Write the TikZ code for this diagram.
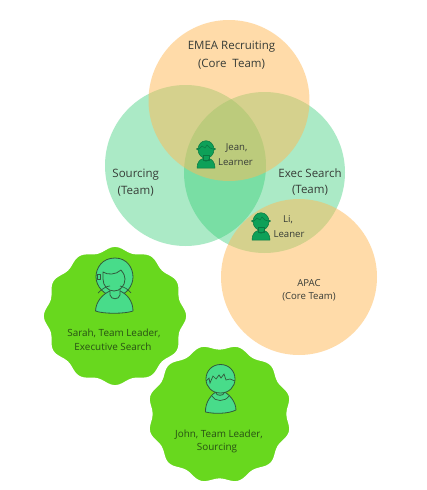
\documentclass[tikz,border=0pt]{standalone}
\usepackage{fontspec}
\setmainfont{Open Sans}
\definecolor{venngreen}{RGB}{46,204,113}
\definecolor{vennorange}{RGB}{255,185,85}
\definecolor{blob}{RGB}{104,216,30}
\definecolor{iconfill}{RGB}{72,220,138}
\definecolor{iconline}{RGB}{50,90,60}
\definecolor{smallfill}{RGB}{14,160,88}
\definecolor{smallline}{RGB}{10,120,65}
\definecolor{txt}{RGB}{55,60,55}
\definecolor{blobtxt}{RGB}{40,80,20}
\tikzset{
  greenc/.style={fill=venngreen,fill opacity=.4,draw=none},
  orangec/.style={fill=vennorange,fill opacity=.5,draw=none},
  lab/.style={font=\fontsize{11.5}{13}\selectfont,text=txt,inner sep=0pt,anchor=center},
  labs/.style={font=\fontsize{9.6}{11}\selectfont,text=txt,inner sep=0pt,anchor=center},
  labb/.style={font=\fontsize{9.9}{11}\selectfont,text=blobtxt,inner sep=0pt,anchor=center},
  blobshape/.style={fill=blob,draw=white,line width=1.5pt},
  bigicon/.style={fill=iconfill,draw=iconline,line width=.8pt,line join=round},
  smallicon/.style={fill=smallfill,draw=smallline,line width=.5pt,line join=round},
  smalldetail/.style={draw=smallline,line width=.5pt}
}
\newcommand{\smallperson}[2]{%
  \begin{scope}[shift={(#1,#2)}]
    \fill[smallicon] (-9,27) .. controls (-9,21) and (-6,18.5) .. (-3,17.5) -- (3,17.5) .. controls (6,18.5) and (9,21) .. (9,27) -- cycle;
    \fill[smallicon] (0,8.5) circle[x radius=8,y radius=8.8];
    \fill[smallicon] (-3,14) rectangle (3,19);
    \draw[smalldetail] (-3,18) .. controls (-2,21) and (2,21) .. (3,18);
    \draw[smalldetail] (-7,8) -- (-4,5) -- (-1,7) -- (1,4) -- (4,7) -- (7,8);
    \fill[smallline] (-8.8,8) circle (1.1) (8.8,8) circle (1.1);
  \end{scope}}
\begin{document}
\begin{tikzpicture}[x=1pt,y=-1pt]
\useasboundingbox (0,0) rectangle (427,490);
\fill[white] (0,0) rectangle (427,490);
% Venn circles
\fill[greenc] (185.5,165.5) circle (80.5);
\fill[greenc] (264.5,172.5) circle (80.5);
\fill[orangec] (229,100.5) circle (80.5);
\fill[orangec] (299,277) circle (78);
% Blobs
\fill[blobshape] plot[smooth cycle,samples=96,domain=0:356.25,variable=\t]
  ({115+69.5*(1+.035*cos(12*\t))*cos(\t)},{316+67.5*(1+.035*cos(12*\t))*sin(\t)});
\draw[blobshape] plot[smooth cycle,samples=96,domain=0:356.25,variable=\t]
  ({219.5+70*(1+.035*cos(12*(\t+15)))*cos(\t)},{414+67.5*(1+.035*cos(12*(\t+15)))*sin(\t)});
% Small people
\smallperson{206}{141}
\smallperson{261}{213}
% Sarah icon
\draw[bigicon] (115,258) .. controls (102,258) and (96,268) .. (96,277) .. controls (96,286) and (104,296) .. (115,296) .. controls (126,296) and (133,286) .. (133,277) .. controls (133,268) and (127,258) .. (115,258) -- cycle;
\draw[bigicon] (95.5,311) .. controls (96,301) and (103,294) .. (110,291) -- (120,291) .. controls (127,294) and (133,301) .. (133,311) .. controls (125,314) and (103,314) .. (95.5,311) -- cycle;
\draw[bigicon] (110,286) -- (110,295) .. controls (111,300) and (119,300) .. (120,295) -- (120,286);
\draw[bigicon] (103,272) .. controls (107,275) and (116,275) .. (121,270) .. controls (124,274) and (125,276) .. (125,279) .. controls (125,286) and (120,291) .. (114,291) .. controls (108,291) and (103,286) .. (103,279) -- cycle;
\draw[bigicon] (97,274) rectangle (100,279);
\draw[iconline,line width=.7pt] (98,293) .. controls (104,287) and (108,286) .. (110,286);
\draw[iconline,line width=.7pt] (120,286) .. controls (124,287) and (128,289) .. (131,293);
% John icon
\draw[bigicon] (205.5,412) .. controls (205,402) and (212,393) .. (218,391) -- (222,391) .. controls (229,393) and (236,402) .. (236,410) .. controls (228,414) and (214,414) .. (205.5,412) -- cycle;
\draw[bigicon] (216,386) -- (216,393) .. controls (216,396) and (224,396) .. (224,393) -- (224,386);
\draw[iconline,line width=.7pt] (212,396) .. controls (215,402) and (225,402) .. (229,396);
\draw[bigicon] (220.5,364.5) .. controls (212,364.5) and (206,371) .. (206,379) .. controls (206,387) and (212,393) .. (220.5,393) .. controls (229,393) and (235,387) .. (235,379) .. controls (235,371) and (229,364.5) .. (220.5,364.5) -- cycle;
\draw[iconline,line width=.7pt] (206,381) -- (209,378) -- (210,383) -- (213,376) -- (216,379) -- (219,375) -- (221,378) -- (224,374) -- (226,380) -- (230,379) -- (235,381);
% Labels
\node[lab] (emeaA) at (231.5,47) {EMEA Recruiting};
\node[lab] (emeaB) at (231.5,64) {(Core\ \ Team)};
\node[lab] (srcA) at (135.7,175) {Sourcing};
\node[lab] (srcB) at (135.7,191.5) {(Team)};
\node[lab] (execA) at (310,173.5) {Exec Search};
\node[lab] (execB) at (310,190) {(Team)};
\node[labs] (jeanA) at (236.7,148) {Jean,};
\node[labs] (jeanB) at (235.5,162) {Learner};
\node[labs] (liA) at (288,220) {Li,};
\node[labs] (liB) at (289,234) {Leaner};
\node[labs] (apacA) at (309,283) {APAC};
\node[labs] (apacB) at (309,297) {(Core Team)};
\node[labb] (sarahA) at (114,333) {Sarah, Team Leader,};
\node[labb] (sarahB) at (113,346.5) {Executive Search};
\node[labb] (johnA) at (219,434.5) {John, Team Leader,};
\node[labb] (johnB) at (217,448.5) {Sourcing};
\end{tikzpicture}
\end{document}
